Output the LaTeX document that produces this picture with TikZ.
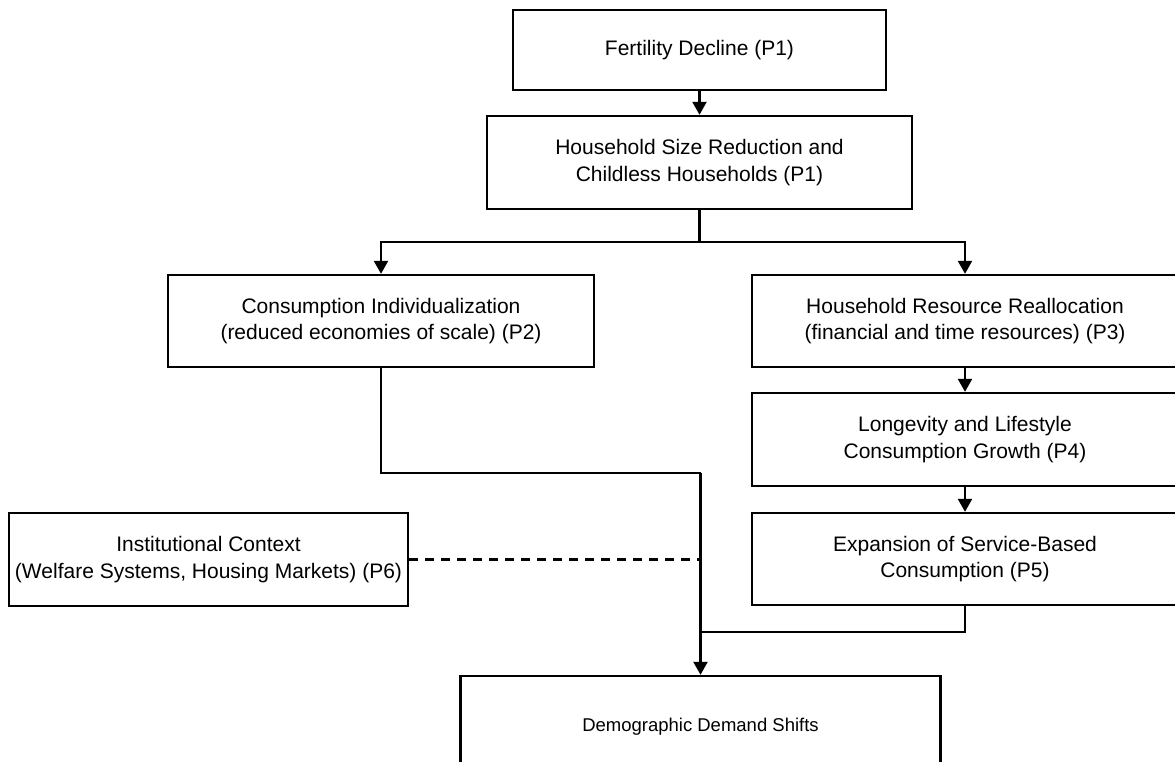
\documentclass[tikz,border=0pt]{standalone}
\usepackage{fontspec}
\setmainfont{Liberation Sans}
\usetikzlibrary{arrows.meta}
\begin{document}
\begin{tikzpicture}[x=1pt,y=-1pt,
  box/.style={draw=black,line width=2.4pt,align=center,inner sep=0pt,
    font=\fontsize{21}{26.5}\selectfont},
  link/.style={draw=black,line width=2.4pt},
  arr/.style={link,-{Triangle[width=14pt,length=13pt]}},
  dashlink/.style={link,dash pattern=on 9pt off 7pt}]
\useasboundingbox (0,0) rectangle (1175,762);
\fill[white] (0,0) rectangle (1175,762);
\node[box,minimum width=373pt,minimum height=80pt] (f) at (699.5,50) {Fertility Decline (P1)};
\node[box,minimum width=425pt,minimum height=93pt] (hh) at (699.5,162.5) {Household Size Reduction and\\Childless Households (P1)};
\node[box,minimum width=426pt,minimum height=92pt] (ci) at (381,321) {Consumption Individualization\\(reduced economies of scale) (P2)};
\node[box,minimum width=426pt,minimum height=92pt] (hr) at (965,321) {Household Resource Reallocation\\(financial and time resources) (P3)};
\node[box,minimum width=426pt,minimum height=93pt] (lg) at (965,439.5) {Longevity and Lifestyle\\Consumption Growth (P4)};
\node[box,minimum width=426pt,minimum height=92pt] (sv) at (965,559) {Expansion of Service-Based\\Consumption (P5)};
\node[box,minimum width=399pt,minimum height=93pt] (ic) at (208.5,559.5) {Institutional Context\\(Welfare Systems, Housing Markets) (P6)};
\node[box,minimum width=480pt,minimum height=102pt,font=\fontsize{18.5}{22}\selectfont] (dd) at (700.5,727) {Demographic Demand Shifts};
\coordinate (split) at (699.5,242);
\coordinate (c2) at (700.5,473);
\coordinate (mj) at (700.5,632);
\draw[arr] (f) -- (hh);
\draw[link] (hh.south) -- (split);
\draw[arr] (split) -| (ci.north);
\draw[arr] (split) -| (hr.north);
\draw[arr] (hr) -- (lg);
\draw[arr] (lg) -- (sv);
\draw[link] (ci.south) |- (c2);
\draw[arr] (c2) -- (dd.north);
\draw[link] (sv.south) |- (mj);
\draw[dashlink] (ic.east) -- (ic.east -| dd.north);
\end{tikzpicture}
\end{document}
